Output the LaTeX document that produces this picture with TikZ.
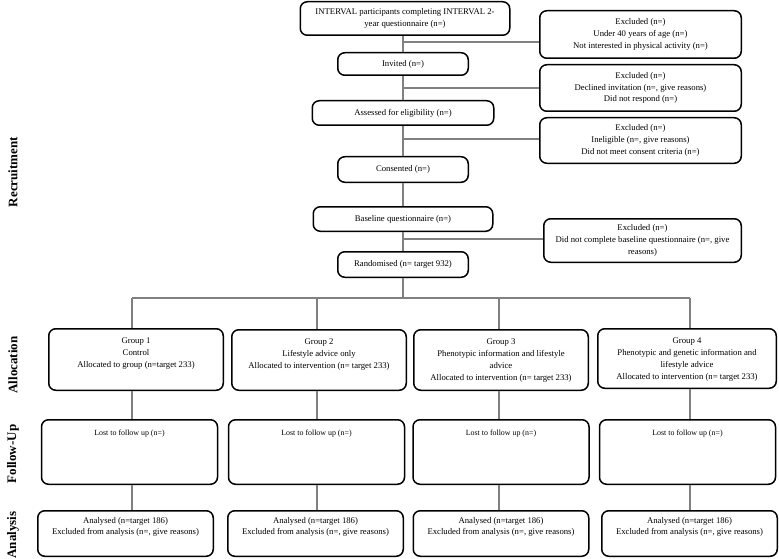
\documentclass[tikz,border=0pt]{standalone}
\usepackage{fontspec}
\setmainfont{Liberation Serif}
\usetikzlibrary{positioning}

\begin{document}
\begin{tikzpicture}[x=1pt,y=-1pt,
  box/.style={draw, rounded corners=7pt, line width=1.5pt, align=center, inner sep=0pt,
    font=\fontsize{8.7}{11.7}\selectfont},
  txt/.style={align=center, inner sep=0pt, anchor=north, font=\fontsize{8.7}{11.7}\selectfont},
  link/.style={draw=gray, line width=1.2pt},
  phase/.style={rotate=90, font=\fontsize{13}{15}\selectfont\bfseries}]
  \useasboundingbox (0,0) rectangle (779,559);

  % recruitment
  \node[box, minimum width=209.5pt, minimum height=33.5pt] (start) at (405,18.5)
    {INTERVAL participants completing INTERVAL 2-\\year questionnaire (n=)};
  \node[box, minimum width=130.5pt, minimum height=22.5pt] (inv) at (403,64) {Invited (n=)};
  \node[box, minimum width=181.5pt, minimum height=24.5pt] (elig) at (403,113) {Assessed for eligibility (n=)};
  \node[box, minimum width=130.5pt, minimum height=25.5pt] (cons) at (403,169.5) {Consented (n=)};
  \node[box, minimum width=179.5pt, minimum height=24.5pt] (base) at (403,219) {Baseline questionnaire (n=)};
  \node[box, minimum width=130.5pt, minimum height=25.5pt] (rand) at (403,264.5) {Randomised (n= target 932)};

  \node[box, minimum width=201.5pt, minimum height=47.5pt] (ex1) at (640.5,34.5)
    {Excluded (n=)\\Under 40 years of age (n=)\\Not interested in physical activity (n=)};
  \node[box, minimum width=201.5pt, minimum height=46.5pt] (ex2) at (640.5,88)
    {Excluded (n=)\\Declined invitation (n=, give reasons)\\Did not respond (n=)};
  \node[box, minimum width=201.5pt, minimum height=45.5pt] (ex3) at (640.5,140.5)
    {Excluded (n=)\\Ineligible (n=, give reasons)\\Did not meet consent criteria (n=)};
  \node[box, minimum width=197.5pt, minimum height=43.5pt] (ex4) at (642.5,240.5)
    {Excluded (n=)\\Did not complete baseline questionnaire (n=, give\\reasons)};

  \draw[link] (start.south -| inv) -- (inv);
  \draw[link] (inv) -- (elig);
  \draw[link] (elig) -- (cons);
  \draw[link] (cons) -- (base);
  \draw[link] (base) -- (rand);

  \coordinate (b1) at (403,42);
  \coordinate (b2) at (403,88);
  \coordinate (b3) at (403,139);
  \coordinate (b4) at (403,239);
  \foreach \i in {1,...,4}
    \draw[link] (b\i) -- (b\i -| ex\i.west);

  % allocation
  \node[box, minimum width=174.5pt, minimum height=61.5pt] (g1) at (136,359.5) {};
  \node[box, minimum width=174.5pt, minimum height=60.5pt] (g2) at (319,360) {};
  \node[box, minimum width=174.5pt, minimum height=60.5pt] (g3) at (501,360) {};
  \node[box, minimum width=178.5pt, minimum height=59.5pt] (g4) at (687,358.5) {};
  \node[txt] (g1txt) at ([yshift=-10pt]g1.north) {Group 1\\Control\\Allocated to group (n=target 233)};
  \node[txt] (g2txt) at ([yshift=-10pt]g2.north) {Group 2\\Lifestyle advice only\\Allocated to intervention (n= target 233)};
  \node[txt] (g3txt) at ([yshift=-10pt]g3.north)
    {Group 3\\Phenotypic information and lifestyle\\advice\\Allocated to intervention (n= target 233)};
  \node[txt] (g4txt) at ([yshift=-10pt]g4.north)
    {Group 4\\Phenotypic and genetic information and\\lifestyle advice\\Allocated to intervention (n= target 233)};

  % follow-up and analysis
  \foreach \i/\fx/\ax in {1/129.5/125.5, 2/316.5/315.5, 3/501/501, 4/687.5/689.5} {
    \node[box, minimum width=176pt, minimum height=64.5pt] (f\i) at (\fx,452) {};
    \node[txt, font=\fontsize{7.9}{10}\selectfont] (f\i txt) at ([yshift=-11pt]f\i.north) {Lost to follow up (n=)};
    \node[box, minimum width=175.5pt, minimum height=45.5pt] (a\i) at (\ax,533.5) {};
    \node[txt] (a\i txt) at ([yshift=-7pt]a\i.north)
      {Analysed (n=target 186)\\Excluded from analysis (n=, give reasons)};
  }

  \coordinate (split) at (403,298);
  \foreach \i/\cx in {1/132, 2/317, 3/499, 4/690}
    \coordinate (col\i) at (\cx,298);
  \draw[link] (rand) -- (split);
  \draw[link] (col1) -- (col4);
  \foreach \i in {1,...,4} {
    \draw[link] (col\i) -- (col\i |- g\i.north);
    \draw[link] (col\i |- g\i.south) -- (col\i |- f\i.north);
    \draw[link] (col\i |- f\i.south) -- (col\i |- a\i.north);
  }

  % phases
  \node[phase] (recruit) at (13,172) {Recruitment};
  \node[phase] (alloc) at (13,365) {Allocation};
  \node[phase] (follow) at (13,454) {Follow-Up};
  \node[phase] (anal) at (13,535) {Analysis};
\end{tikzpicture}
\end{document}
